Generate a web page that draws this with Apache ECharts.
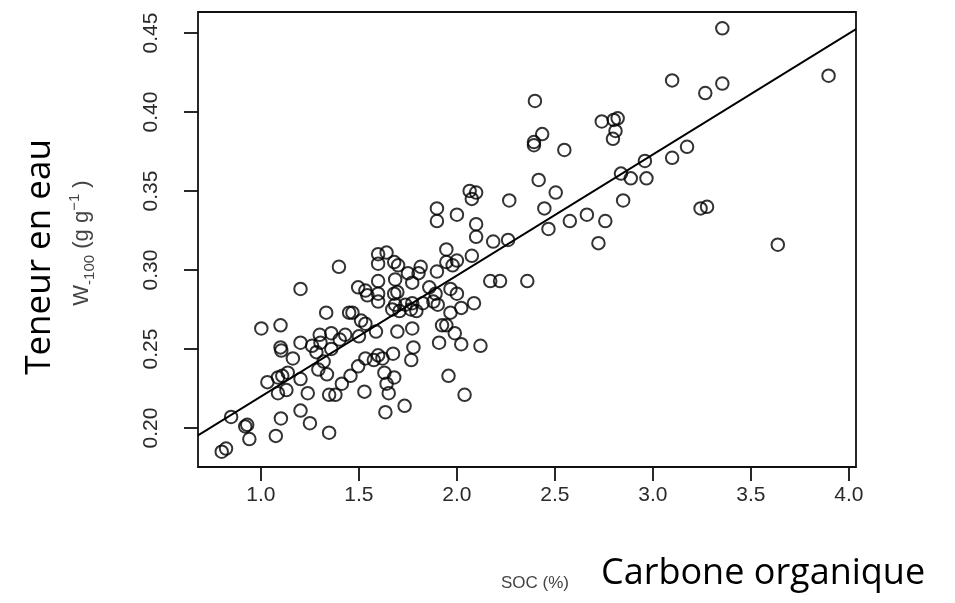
<!DOCTYPE html>
<html>
<head>
<meta charset="utf-8">
<script src="https://cdn.jsdelivr.net/npm/echarts@6/dist/echarts.min.js"></script>
<style>html,body{margin:0;padding:0;background:#fff}#c{width:955px;height:603px}</style>
</head>
<body>
<div id="c"></div>
<script>
// SOC (%) values
const socValues = [3.354,3.896,3.098,3.267,3.354,2.398,2.739,2.800,2.820,2.809,2.796,2.435,2.393,2.393,2.548,3.174,3.098,2.959,2.837,2.887,2.967,2.417,2.848,2.504,2.446,2.267,2.065,2.098,2.076,1.898,1.898,2.000,2.098,2.098,2.663,2.757,2.576,2.467,2.722,3.243,3.276,3.637,2.185,2.261,2.076,1.946,1.946,1.978,2.000,2.170,2.220,2.359,1.398,1.202,1.598,1.641,1.598,1.680,1.700,1.750,1.815,1.804,1.898,1.598,1.685,1.772,1.496,1.533,1.543,1.598,1.598,1.680,1.696,1.859,1.891,1.880,1.967,2.000,2.087,1.685,1.670,1.707,1.772,1.793,1.765,1.737,1.826,1.902,1.967,2.022,1.333,1.450,1.467,1.511,1.533,1.587,1.696,1.772,1.924,1.946,1.989,2.022,2.120,1.909,1.778,1.767,1.002,1.100,1.100,1.104,1.202,1.261,1.300,1.304,1.359,1.359,1.402,1.430,1.500,1.283,1.163,1.320,1.033,1.087,1.109,1.137,1.202,1.293,1.337,1.457,1.496,1.533,1.576,1.598,1.620,1.674,1.630,1.680,1.413,1.087,1.130,1.239,1.348,1.380,1.528,1.641,1.652,1.957,2.039,1.733,1.635,1.202,1.250,1.102,1.076,1.348,0.848,0.920,0.930,0.941,0.800,0.822];
// W-100 (g g-1) values
const waterValues = [0.453,0.423,0.420,0.412,0.418,0.407,0.394,0.395,0.396,0.388,0.383,0.386,0.381,0.379,0.376,0.378,0.371,0.369,0.361,0.358,0.358,0.357,0.344,0.349,0.339,0.344,0.350,0.349,0.345,0.339,0.331,0.335,0.329,0.321,0.335,0.331,0.331,0.326,0.317,0.339,0.340,0.316,0.318,0.319,0.309,0.313,0.305,0.303,0.306,0.293,0.293,0.293,0.302,0.288,0.310,0.311,0.304,0.305,0.303,0.298,0.302,0.298,0.299,0.293,0.294,0.292,0.289,0.287,0.284,0.285,0.280,0.285,0.286,0.289,0.285,0.280,0.288,0.285,0.279,0.278,0.275,0.274,0.279,0.274,0.275,0.278,0.279,0.278,0.273,0.276,0.273,0.273,0.273,0.268,0.266,0.261,0.261,0.263,0.265,0.265,0.260,0.253,0.252,0.254,0.251,0.243,0.263,0.265,0.251,0.249,0.254,0.252,0.259,0.254,0.260,0.250,0.256,0.259,0.258,0.248,0.244,0.242,0.229,0.232,0.233,0.235,0.231,0.237,0.234,0.233,0.239,0.244,0.243,0.246,0.244,0.247,0.235,0.232,0.228,0.222,0.224,0.222,0.221,0.221,0.223,0.228,0.222,0.233,0.221,0.214,0.210,0.211,0.203,0.206,0.195,0.197,0.207,0.201,0.202,0.193,0.185,0.187];
// tick labels
const xTicks = [1.0,1.5,2.0,2.5,3.0,3.5,4.0];
const yTicks = [0.20,0.25,0.30,0.35,0.40,0.45];
// regression line (intercept, slope)
const fitIntercept = 0.1433;
const fitSlope = 0.0766;
const xRange = [0.679, 4.036];
const yRange = [0.1753, 0.4633];

const points = socValues.map((x, i) => [x, waterValues[i]]);
const fitLine = xRange.map(x => [x, fitIntercept + fitSlope * x]);

const chart = echarts.init(document.getElementById('c'), null, {renderer: 'canvas'});
const lblFont = '"Liberation Sans", Arial, sans-serif';
chart.setOption({
  animation: false,
  backgroundColor: '#fff',
  grid: {left: 198, right: 99, top: 12, bottom: 136, show: true, borderColor: '#111', borderWidth: 1.8, backgroundColor: 'transparent'},
  xAxis: {
    type: 'value', min: xRange[0], max: xRange[1],
    axisLine: {show: false},
    splitLine: {show: false},
    axisTick: {show: true, customValues: xTicks, length: 14, inside: false, lineStyle: {color: '#111', width: 1.8}},
    axisLabel: {customValues: xTicks, margin: 18, color: '#2a2a2a', fontSize: 21, fontFamily: lblFont, formatter: v => v.toFixed(1)}
  },
  yAxis: {
    type: 'value', min: yRange[0], max: yRange[1],
    axisLine: {show: false},
    splitLine: {show: false},
    axisTick: {show: true, customValues: yTicks, length: 14, inside: false, lineStyle: {color: '#111', width: 1.8}},
    axisLabel: {customValues: yTicks, rotate: 90, margin: 36, color: '#2a2a2a', fontSize: 21, fontFamily: lblFont, formatter: v => v.toFixed(2)}
  },
  series: [
    {
      type: 'scatter', data: points, symbol: 'circle', symbolSize: 12.5,
      itemStyle: {color: 'rgba(0,0,0,0)', borderColor: '#000', borderWidth: 2},
      z: 3
    },
    {
      type: 'line', data: fitLine, showSymbol: false, symbol: 'none',
      lineStyle: {color: '#000', width: 1.8}, z: 2
    }
  ],
  graphic: [
    {type: 'text', x: 40, y: 257, rotation: Math.PI / 2,
     style: {text: 'Teneur en eau', font: '35px "Open Sans", sans-serif', fill: '#000', align: 'center', verticalAlign: 'middle'}},
    {type: 'text', x: 82, y: 243, rotation: Math.PI / 2,
     style: {text: '{n|W}{sub|-100}{n| (g g}{sup|−1}{n| )}', align: 'center', verticalAlign: 'middle',
       rich: {
         n: {fontSize: 22, fontFamily: lblFont, fill: '#444', lineHeight: 30, verticalAlign: 'middle'},
         sub: {fontSize: 15, fontFamily: lblFont, fill: '#444', lineHeight: 30, verticalAlign: 'bottom'},
         sup: {fontSize: 15, fontFamily: lblFont, fill: '#444', lineHeight: 30, verticalAlign: 'top'}
       }}},
    {type: 'text', x: 535, y: 583,
     style: {text: 'SOC (%)', font: '17px "Liberation Sans", Arial, sans-serif', fill: '#444', align: 'center', verticalAlign: 'middle'}},
    {type: 'text', x: 601, y: 574,
     style: {text: 'Carbone organique', font: '36px "Open Sans", sans-serif', fill: '#000', align: 'left', verticalAlign: 'middle'}}
  ]
});
</script>
</body>
</html>
